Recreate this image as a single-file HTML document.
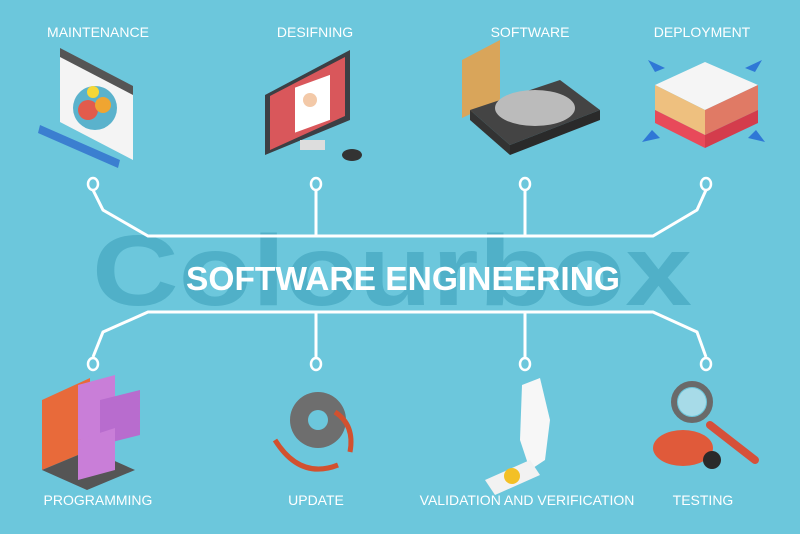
<!DOCTYPE html>
<html><head><meta charset="utf-8"><style>
html,body{margin:0;padding:0;background:#6cc7dc;}
svg{display:block}
text{font-family:"Liberation Sans",sans-serif;fill:#fff}
</style></head><body>
<svg width="800" height="534" viewBox="0 0 800 534" xmlns="http://www.w3.org/2000/svg">
<rect width="800" height="534" fill="#6cc7dc"/>
<!-- watermark -->
<text x="392" y="305" font-size="100" font-weight="bold" text-anchor="middle" style="fill:#3a9fb8;opacity:0.55" textLength="600" lengthAdjust="spacingAndGlyphs">Colourbox</text>
<!-- connectors -->
<g stroke="#fff" stroke-width="3" fill="none">
<polyline points="93,190 103,210 148,236 653,236 697,210 706,190"/>
<polyline points="93,357 103,332 148,312 653,312 697,332 706,357"/>
<line x1="316" y1="190" x2="316" y2="236"/><line x1="525" y1="190" x2="525" y2="236"/>
<line x1="316" y1="312" x2="316" y2="357"/><line x1="525" y1="312" x2="525" y2="357"/>
</g>
<g stroke="#fff" stroke-width="2.5" fill="#6cc7dc">
<ellipse cx="93" cy="184" rx="5" ry="6"/><ellipse cx="316" cy="184" rx="5" ry="6"/><ellipse cx="525" cy="184" rx="5" ry="6"/><ellipse cx="706" cy="184" rx="5" ry="6"/>
<ellipse cx="93" cy="364" rx="5" ry="6"/><ellipse cx="316" cy="364" rx="5" ry="6"/><ellipse cx="525" cy="364" rx="5" ry="6"/><ellipse cx="706" cy="364" rx="5" ry="6"/>
</g>
<text x="403" y="290" font-size="33" font-weight="bold" text-anchor="middle" textLength="434" lengthAdjust="spacingAndGlyphs">SOFTWARE  ENGINEERING</text>
<!-- labels -->
<g font-size="14" text-anchor="middle">
<text x="98" y="37">MAINTENANCE</text><text x="315" y="37">DESIFNING</text><text x="530" y="37">SOFTWARE</text><text x="702" y="37">DEPLOYMENT</text>
<text x="98" y="505">PROGRAMMING</text><text x="316" y="505">UPDATE</text><text x="527" y="505">VALIDATION AND VERIFICATION</text><text x="703" y="505">TESTING</text>
</g>
<!-- maintenance icon -->
<polygon points="60,52 133,90 133,160 60,122" fill="#f4f4f4"/>
<polygon points="60,48 133,86 133,95 60,57" fill="#555"/>
<circle cx="95" cy="108" r="22" fill="#5ab2cc"/>
<circle cx="88" cy="110" r="10" fill="#e25b4c"/><circle cx="103" cy="105" r="8" fill="#f0a531"/><circle cx="93" cy="92" r="6" fill="#f6d735"/>
<polygon points="40,125 120,160 118,168 38,133" fill="#3b7fd0"/>
<!-- designing icon -->
<polygon points="265,95 350,50 350,120 265,155" fill="#3c3f44"/>
<polygon points="270,96 345,57 345,116 270,150" fill="#d9575b"/>
<rect x="295" y="85" width="35" height="45" fill="#fff" transform="skewY(-20) translate(0,110)"/>
<circle cx="310" cy="100" r="7" fill="#f3c9a8"/>
<rect x="300" y="140" width="25" height="10" fill="#ddd"/>
<ellipse cx="352" cy="155" rx="10" ry="6" fill="#333"/>
<!-- software icon -->
<polygon points="462,60 500,40 500,100 462,118" fill="#d9a55a"/>
<polygon points="470,110 560,80 600,110 510,145" fill="#444"/>
<polygon points="470,110 510,145 510,155 470,120" fill="#333"/><polygon points="510,145 600,110 600,120 510,155" fill="#2a2a2a"/>
<ellipse cx="535" cy="108" rx="40" ry="18" fill="#bbb"/>
<!-- deployment icon -->
<polygon points="655,85 705,62 758,85 705,110" fill="#f5f5f5"/>
<polygon points="655,85 705,110 705,135 655,110" fill="#eec07f"/>
<polygon points="705,110 758,85 758,110 705,135" fill="#e07a65"/>
<polygon points="655,110 705,135 705,148 655,123" fill="#e84a5a"/>
<polygon points="705,135 758,110 758,123 705,148" fill="#d43c4c"/>
<polygon points="648,60 665,68 655,72" fill="#2f78d6"/><polygon points="762,60 745,68 755,72" fill="#2f78d6"/>
<polygon points="642,142 660,138 652,130" fill="#2f78d6"/><polygon points="765,142 748,138 756,130" fill="#2f78d6"/>
<!-- programming icon -->
<polygon points="42,400 90,378 90,450 42,470" fill="#e86a3a"/>
<polygon points="42,470 90,450 135,470 87,490" fill="#555"/>
<polygon points="78,385 115,375 115,430 78,440" fill="#c97ed8"/>
<polygon points="100,400 140,390 140,435 100,445" fill="#b86cce"/>
<polygon points="78,440 115,428 115,470 78,480" fill="#c97ed8"/>
<!-- update icon -->
<circle cx="318" cy="420" r="28" fill="#6e6e6e"/><circle cx="318" cy="420" r="10" fill="#6cc7dc"/>
<path d="M275,440 Q300,480 338,465" stroke="#d2512f" stroke-width="5" fill="none"/>
<path d="M335,412 Q355,425 350,452" stroke="#d2512f" stroke-width="5" fill="none"/>
<!-- validation icon -->
<polygon points="522,385 540,378 550,420 545,460 530,470 520,440" fill="#f7f7f7"/>
<polygon points="485,480 530,460 540,475 495,495" fill="#f2f2f2"/>
<circle cx="512" cy="476" r="8" fill="#f3c026"/>
<!-- testing icon -->
<circle cx="692" cy="402" r="18" fill="none" stroke="#6a6a6a" stroke-width="6"/>
<circle cx="692" cy="402" r="14" fill="#a7dbe8"/>
<line x1="710" y1="425" x2="755" y2="460" stroke="#d6503a" stroke-width="8" stroke-linecap="round"/>
<ellipse cx="683" cy="448" rx="30" ry="18" fill="#e05a3a"/>
<circle cx="712" cy="460" r="9" fill="#2a2a2a"/>
</svg>
</body></html>
